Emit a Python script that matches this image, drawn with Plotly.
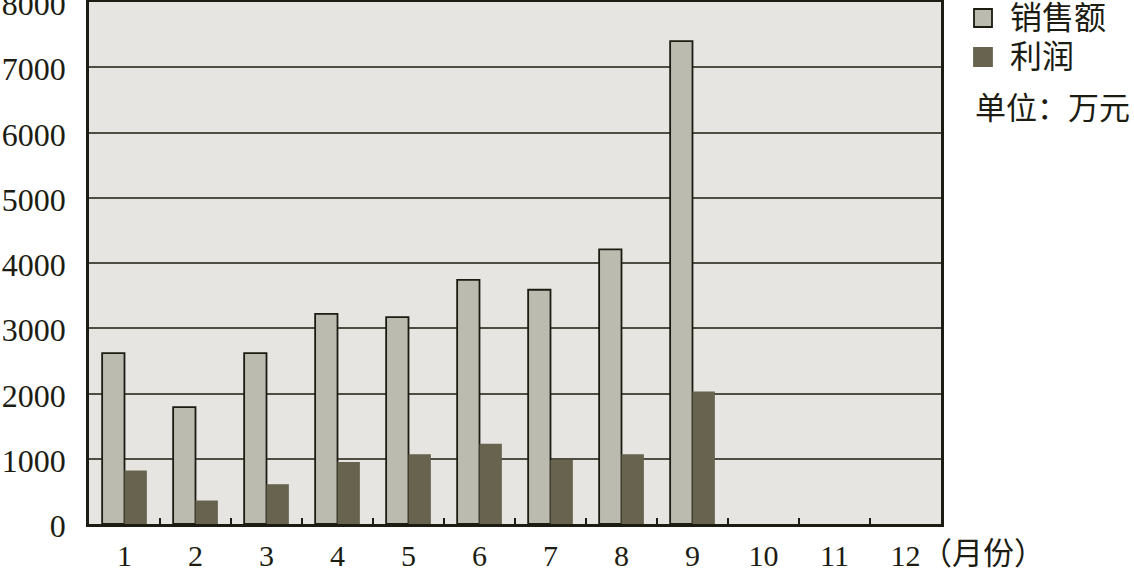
import plotly.graph_objects as go

months = [str(m) for m in range(1, 13)]
sales = [2620, 1790, 2620, 3220, 3170, 3740, 3590, 4210, 7400, None, None, None]
profit = [820, 360, 610, 950, 1070, 1230, 980, 1070, 2030, None, None, None]
y_ticks = [0, 1000, 2000, 3000, 4000, 5000, 6000, 7000, 8000]
series_names = ["销售额", "利润"]
unit_text = "单位：万元"
x_unit_text = "（月份）"

FONT = "Liberation Serif, Times New Roman, Noto Sans CJK SC, serif"
INK = "#1c1c12"
SALES_C = "#bbbbb0"
PROFIT_C = "#67634f"

L, R, T, B = 89, 941, 2, 524
W, H = 1134, 569
PW, PH = R - L, B - T

fig = go.Figure()
fig.add_trace(go.Bar(x=months, y=sales, name=series_names[0], showlegend=False,
                     marker=dict(color=SALES_C, line=dict(color=INK, width=1.8))))
fig.add_trace(go.Bar(x=months, y=profit, name=series_names[1], showlegend=False,
                     marker=dict(color=PROFIT_C, line=dict(color=PROFIT_C, width=0))))

fig.update_layout(
    width=W, height=H,
    margin=dict(l=L, r=W - R, t=T, b=H - B, autoexpand=False),
    paper_bgcolor="white", plot_bgcolor="#e6e5e1",
    barmode="group", bargap=0.37, bargroupgap=0,
    font=dict(family=FONT, size=30, color=INK),
    showlegend=False,
)
fig.update_xaxes(type="category", categoryorder="array", categoryarray=months,
                 showline=True, linecolor=INK, linewidth=2.5, mirror=True,
                 ticks="inside", tickson="boundaries", ticklen=6, tickwidth=1.5,
                 tickcolor=INK, showgrid=False, ticklabelstandoff=3,
                 automargin=False,
                 tickfont=dict(size=30, family=FONT))
fig.update_yaxes(range=[0, 8000], tickvals=y_ticks,
                 showline=True, linecolor=INK, linewidth=2.5, mirror=True,
                 ticks="", showgrid=True, gridcolor="#4d4d42", gridwidth=1.6,
                 zeroline=False, ticklabelstandoff=14, ticklabeloverflow="allow",
                 ticklabelshift=2, automargin=False,
                 tickfont=dict(size=32, family=FONT))


def px(x):
    return (x - L) / PW


def py(y):
    return (B - y) / PH


# manual legend (larger swatches than plotly's built-in legend)
for (name, col, lc, yc) in [(series_names[0], SALES_C, INK, 18), (series_names[1], PROFIT_C, PROFIT_C, 57)]:
    fig.add_shape(type="rect", xref="paper", yref="paper",
                  x0=px(974), x1=px(992), y0=py(yc - 9), y1=py(yc + 9),
                  fillcolor=col, line=dict(color=lc, width=1.8))
    fig.add_annotation(text=name, xref="paper", yref="paper",
                       x=px(1008), y=py(yc), xanchor="left", yanchor="middle",
                       showarrow=False, font=dict(size=32, family=FONT, color=INK))

fig.add_annotation(text=unit_text, xref="paper", yref="paper",
                   x=px(973), y=py(108), xanchor="left", yanchor="middle",
                   showarrow=False, font=dict(size=31, family=FONT, color=INK))
fig.add_annotation(text=x_unit_text, xref="paper", yref="paper",
                   x=px(919), y=py(553), xanchor="left", yanchor="middle",
                   showarrow=False, font=dict(size=31, family=FONT, color=INK))

fig.write_html("out.html", config={"displayModeBar": False},
               post_script="document.body.style.margin='0';document.body.style.overflow='hidden';")
